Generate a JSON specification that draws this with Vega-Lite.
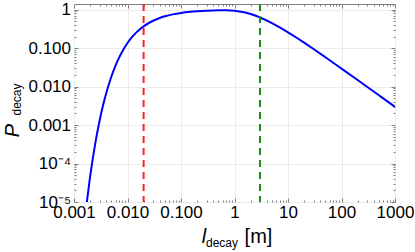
{
  "$schema": "https://vega.github.io/schema/vega-lite/v6.json",
  "width": 321,
  "height": 198,
  "autosize": "none",
  "padding": {"left": 74, "top": 4, "right": 20, "bottom": 50},
  "background": "white",
  "config": {
    "view": {"stroke": "#808080", "strokeWidth": 1},
    "font": "Liberation Sans",
    "axis": {
      "labelFont": "Liberation Sans",
      "titleFont": "Liberation Sans",
      "labelColor": "black",
      "titleColor": "black",
      "titleFontWeight": "normal",
      "tickColor": "#808080",
      "domain": false,
      "labelFlush": false,
      "labelOverlap": false
    }
  },
  "datasets": {
    "curve": [
      {"l": 0.0017, "p": 0.0000078},
      {"l": 0.002, "p": 0.0000454},
      {"l": 0.0025, "p": 0.000335},
      {"l": 0.003, "p": 0.00127},
      {"l": 0.0035, "p": 0.0033},
      {"l": 0.004, "p": 0.00674},
      {"l": 0.005, "p": 0.0183},
      {"l": 0.006, "p": 0.0357},
      {"l": 0.007, "p": 0.0574},
      {"l": 0.008, "p": 0.0821},
      {"l": 0.01, "p": 0.1353},
      {"l": 0.012, "p": 0.189},
      {"l": 0.015, "p": 0.2636},
      {"l": 0.02, "p": 0.3679},
      {"l": 0.03, "p": 0.5134},
      {"l": 0.04, "p": 0.6065},
      {"l": 0.05, "p": 0.6703},
      {"l": 0.07, "p": 0.7515},
      {"l": 0.1, "p": 0.8187},
      {"l": 0.15, "p": 0.8752},
      {"l": 0.2, "p": 0.9048},
      {"l": 0.3, "p": 0.9355},
      {"l": 0.5, "p": 0.9583},
      {"l": 0.7, "p": 0.958},
      {"l": 1, "p": 0.9304},
      {"l": 1.5, "p": 0.8515},
      {"l": 2, "p": 0.7669},
      {"l": 3, "p": 0.6255},
      {"l": 5, "p": 0.4472},
      {"l": 7, "p": 0.3458},
      {"l": 10, "p": 0.2572},
      {"l": 15, "p": 0.18},
      {"l": 20, "p": 0.1383},
      {"l": 30, "p": 0.0945},
      {"l": 50, "p": 0.0578},
      {"l": 70, "p": 0.04167},
      {"l": 100, "p": 0.02935},
      {"l": 200, "p": 0.01479},
      {"l": 300, "p": 0.00988},
      {"l": 500, "p": 0.00594},
      {"l": 700, "p": 0.00425},
      {"l": 1000, "p": 0.002976}
    ],
    "vlines": [
      {"x": 0.02, "line": "a"},
      {"x": 3, "line": "b"}
    ]
  },
  "layer": [
    {
      "data": {"name": "curve"},
      "mark": {"type": "line", "color": "#0000ff", "strokeWidth": 2, "clip": true, "interpolate": "monotone"},
      "encoding": {
        "x": {
          "field": "l", "type": "quantitative",
          "scale": {"type": "log", "domain": [0.001, 1000], "nice": false},
          "axis": {
            "orient": "bottom",
            "values": [0.001, 0.01, 0.1, 1, 10, 100, 1000],
            "labelExpr": "datum.value < 0.002 ? '0.001' : datum.value < 0.02 ? '0.010' : datum.value < 0.2 ? '0.100' : datum.value < 2 ? '1' : datum.value < 20 ? '10' : datum.value < 200 ? '100' : '1000'",
            "grid": true, "gridColor": "#ebebeb",
            "ticks": true, "tickSize": -4,
            "labelFontSize": 17, "labelPadding": 6, "labelBaseline": "top",
            "title": "l", "titleFontSize": 20, "titleFontStyle": "italic",
            "titleX": 129.5, "titleY": 40, "titleAlign": "center", "titleBaseline": "alphabetic", "titleAngle": 0
          }
        },
        "y": {
          "field": "p", "type": "quantitative",
          "scale": {"type": "log", "domain": [0.00001, 1.4], "nice": false},
          "axis": {
            "orient": "left",
            "values": [0.00001, 0.0001, 0.001, 0.01, 0.1, 1],
            "labelExpr": "datum.value > 0.5 ? '1' : datum.value > 0.05 ? '0.100' : datum.value > 0.005 ? '0.010' : datum.value > 0.0005 ? '0.001' : datum.value > 0.00005 ? '10⁻⁴' : '10⁻⁵'",
            "grid": true, "gridColor": "#ebebeb",
            "ticks": true, "tickSize": -4,
            "labelFontSize": 17, "labelPadding": 7.5, "labelBaseline": "middle",
            "title": "P", "titleFontSize": 20, "titleFontStyle": "italic",
            "titleX": -56, "titleY": 126, "titleAlign": "center", "titleBaseline": "alphabetic", "titleAngle": 270
          }
        }
      }
    },
    {
      "data": {"name": "vlines"},
      "mark": {"type": "rule", "strokeWidth": 2, "strokeDash": [7, 5]},
      "encoding": {
        "x": {
          "field": "x", "type": "quantitative",
          "scale": {"type": "log", "domain": [0.001, 1000], "nice": false},
          "axis": {
            "orient": "bottom",
            "values": [0.002, 0.003, 0.004, 0.005, 0.006, 0.007, 0.008, 0.009, 0.02, 0.03, 0.04, 0.05, 0.06, 0.07, 0.08, 0.09, 0.2, 0.3, 0.4, 0.5, 0.6, 0.7, 0.8, 0.9, 2, 3, 4, 5, 6, 7, 8, 9, 20, 30, 40, 50, 60, 70, 80, 90, 200, 300, 400, 500, 600, 700, 800, 900],
            "labels": false, "grid": false, "ticks": true, "tickSize": -2,
            "title": "decay", "titleFontSize": 12, "titleFontStyle": "normal",
            "titleX": 147.5, "titleY": 44, "titleAlign": "center", "titleBaseline": "alphabetic", "titleAngle": 0
          }
        },
        "color": {
          "field": "line", "type": "nominal",
          "scale": {"domain": ["a", "b"], "range": ["#ff2020", "#1a8a1a"]},
          "legend": null
        }
      }
    },
    {
      "data": {"name": "curve"},
      "mark": {"type": "point", "opacity": 0},
      "encoding": {
        "x": {
          "field": "l", "type": "quantitative",
          "scale": {"type": "log", "domain": [0.001, 1000], "nice": false},
          "axis": {
            "orient": "top",
            "values": [0.001, 0.01, 0.1, 1, 10, 100, 1000],
            "labels": false, "grid": false, "ticks": true, "tickSize": -4, "title": null
          }
        },
        "y": {
          "field": "p", "type": "quantitative",
          "scale": {"type": "log", "domain": [0.00001, 1.4], "nice": false},
          "axis": {
            "orient": "left",
            "values": [0.00002, 0.00003, 0.00004, 0.00005, 0.00006, 0.00007, 0.00008, 0.00009, 0.0002, 0.0003, 0.0004, 0.0005, 0.0006, 0.0007, 0.0008, 0.0009, 0.002, 0.003, 0.004, 0.005, 0.006, 0.007, 0.008, 0.009, 0.02, 0.03, 0.04, 0.05, 0.06, 0.07, 0.08, 0.09, 0.2, 0.3, 0.4, 0.5, 0.6, 0.7, 0.8, 0.9],
            "labels": false, "grid": false, "ticks": true, "tickSize": -2,
            "title": "decay", "titleFontSize": 12, "titleFontStyle": "normal",
            "titleX": -54, "titleY": 95, "titleAlign": "center", "titleBaseline": "alphabetic", "titleAngle": 270
          }
        }
      }
    },
    {
      "data": {"name": "curve"},
      "mark": {"type": "point", "opacity": 0},
      "encoding": {
        "x": {
          "field": "l", "type": "quantitative",
          "scale": {"type": "log", "domain": [0.001, 1000], "nice": false},
          "axis": {
            "orient": "bottom",
            "values": [0.001],
            "labels": false, "grid": false, "ticks": false,
            "title": "[m]", "titleFontSize": 20, "titleFontStyle": "normal",
            "titleX": 184, "titleY": 40, "titleAlign": "center", "titleBaseline": "alphabetic", "titleAngle": 0
          }
        },
        "y": {
          "field": "p", "type": "quantitative",
          "scale": {"type": "log", "domain": [0.00001, 1.4], "nice": false},
          "axis": {
            "orient": "right",
            "values": [0.00001, 0.0001, 0.001, 0.01, 0.1, 1],
            "labels": false, "grid": false, "ticks": true, "tickSize": -4, "title": null
          }
        }
      }
    },
    {
      "data": {"name": "curve"},
      "mark": {"type": "point", "opacity": 0},
      "encoding": {
        "x": {
          "field": "l", "type": "quantitative",
          "scale": {"type": "log", "domain": [0.001, 1000], "nice": false},
          "axis": {
            "orient": "top",
            "values": [0.002, 0.003, 0.004, 0.005, 0.006, 0.007, 0.008, 0.009, 0.02, 0.03, 0.04, 0.05, 0.06, 0.07, 0.08, 0.09, 0.2, 0.3, 0.4, 0.5, 0.6, 0.7, 0.8, 0.9, 2, 3, 4, 5, 6, 7, 8, 9, 20, 30, 40, 50, 60, 70, 80, 90, 200, 300, 400, 500, 600, 700, 800, 900],
            "labels": false, "grid": false, "ticks": true, "tickSize": -2, "title": null
          }
        },
        "y": {
          "field": "p", "type": "quantitative",
          "scale": {"type": "log", "domain": [0.00001, 1.4], "nice": false},
          "axis": {
            "orient": "right",
            "values": [0.00002, 0.00003, 0.00004, 0.00005, 0.00006, 0.00007, 0.00008, 0.00009, 0.0002, 0.0003, 0.0004, 0.0005, 0.0006, 0.0007, 0.0008, 0.0009, 0.002, 0.003, 0.004, 0.005, 0.006, 0.007, 0.008, 0.009, 0.02, 0.03, 0.04, 0.05, 0.06, 0.07, 0.08, 0.09, 0.2, 0.3, 0.4, 0.5, 0.6, 0.7, 0.8, 0.9],
            "labels": false, "grid": false, "ticks": true, "tickSize": -2, "title": null
          }
        }
      }
    }
  ],
  "resolve": {"axis": {"x": "independent", "y": "independent"}}
}
